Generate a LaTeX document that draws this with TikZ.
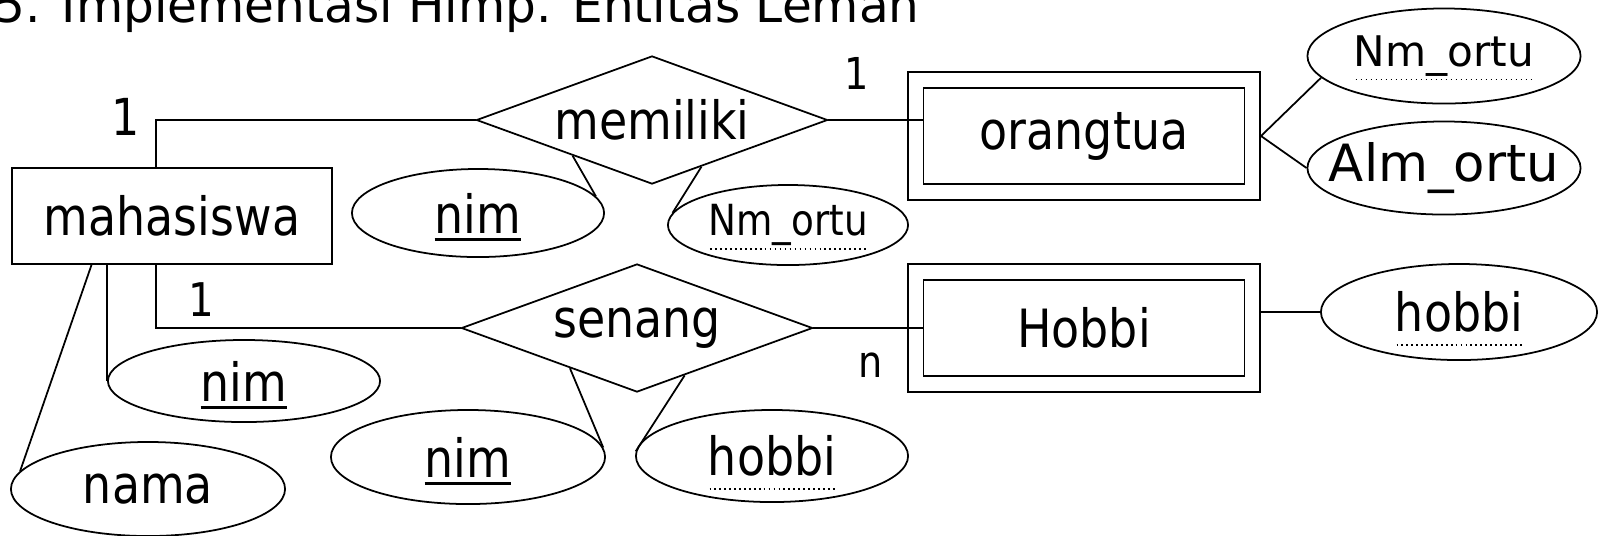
\documentclass[tikz,border=0pt]{standalone}
\usepackage{fontspec}
\setmainfont{DejaVu Sans}[FakeStretch=0.87]
\newfontfamily\comicfont{DejaVu Sans}
\usetikzlibrary{shapes.geometric, calc}

\newcommand{\erfont}{\fontsize{15}{18}\selectfont}
\newcommand{\cardfont}{\fontsize{12.5}{15}\selectfont}
% solid underline for the key, dotted underline for the partial key
\newcommand{\skey}[1]{\setbox0=\hbox{#1}\rlap{\smash{\rule[-2.3pt]{\wd0}{0.8pt}}}\box0}
\newcommand{\pkey}[1]{\setbox0=\hbox{#1}\rlap{\smash{\hbox to \wd0{\xleaders\hbox to 1.4pt{\hss\rule[-4pt]{0.5pt}{0.4pt}\hss}\hfill}}}\box0}

\tikzset{
  entity/.style={draw, rectangle, minimum width=3.2cm, minimum height=0.96cm, font=\erfont},
  weakin/.style={draw, rectangle, minimum width=3.21cm, minimum height=0.96cm, font=\erfont},
  weakout/.style={draw, rectangle, minimum width=3.52cm, minimum height=1.28cm},
  rel/.style={draw, diamond, aspect=2.75, inner sep=0pt, minimum width=3.51cm, minimum height=1.28cm, font=\erfont},
  attr/.style={draw, ellipse, inner xsep=-12pt, inner ysep=0pt, font=\erfont},
  card/.style={inner sep=0pt, font=\cardfont}
}

\begin{document}
\begin{tikzpicture}[x=0.01cm, y=-0.01cm, line width=0.5pt]

        % ==== FRAME ====
        \useasboundingbox (0,0) rectangle (1604,535);

        % ==== TITLE ====
        \node[anchor=base west, inner sep=0pt, font=\comicfont\fontsize{13.8}{16}\selectfont] (title) at (-6,22) {5. Implementasi Himp. Entitas Lemah};

        % ==== ENTITIES ====
        \node[entity] (mahasiswa) at (172,216) {mahasiswa};
        \node[weakout] (orangtuaO) at (1084,136) {};
        \node[weakin] (orangtua) at (1084,136) {orangtua};
        \node[weakout] (HobbiO) at (1084,328) {};
        \node[weakin] (Hobbi) at (1084,328) {Hobbi};

        % ==== RELATIONSHIPS ====
        \node[rel] (memiliki) at (652,120) {memiliki};
        \node[rel] (senang) at (637,328) {senang};

        % ==== ATTRIBUTES ====
        \node[attr, minimum width=2.52cm, minimum height=0.88cm] (nimR) at (478,213) {\skey{nim}};
        \node[attr, minimum width=2.40cm, minimum height=0.80cm, font=\fontsize{12.2}{14}\selectfont] (nmortuR) at (788,225) {\pkey{Nm\_ortu}};
        \node[attr, minimum width=2.73cm, minimum height=0.95cm, font=\comicfont\fontsize{12}{14}\selectfont] (nmortuO) at (1444,56) {\pkey{Nm\_ortu}};
        \node[attr, minimum width=2.73cm, minimum height=0.93cm, font=\comicfont\fontsize{14.6}{17}\selectfont] (almortuO) at (1444,168) {Alm\_ortu};
        \node[attr, minimum width=2.76cm, minimum height=0.96cm] (hobbiH) at (1459,312) {\pkey{hobbi}};
        \node[attr, minimum width=2.72cm, minimum height=0.82cm] (nimM) at (244,381) {\skey{nim}};
        \node[attr, minimum width=2.74cm, minimum height=0.94cm] (namaM) at (148,489) {nama};
        \node[attr, minimum width=2.74cm, minimum height=0.94cm] (nimS) at (468,457) {\skey{nim}};
        \node[attr, minimum width=2.72cm, minimum height=0.92cm] (hobbiS) at (772,456) {\pkey{hobbi}};

        % ==== CARDINALITIES ====
        \node[card, font=\fontsize{14.5}{17}\selectfont] (c1) at (126,117) {1};
        \node[card] (c2) at (857,73) {1};
        \node[card, font=\fontsize{13.2}{16}\selectfont] (c3) at (201,300) {1};
        \node[card] (c4) at (871,365) {n};

        % ==== MAHASISWA - MEMILIKI - ORANGTUA ====
        \draw ($(mahasiswa.north west)!0.45!(mahasiswa.north east)$) |- (memiliki.west);
        \draw (memiliki.east) -- (memiliki.east -| orangtua.west);
        \draw ($(memiliki.west)!0.55!(memiliki.south)$) -- (nimR.8);
        \draw ($(memiliki.south)!0.28!(memiliki.east)$) -- (nmortuR.174);
        \draw (orangtuaO.east) -- (nmortuO.190);
        \draw (orangtuaO.east) -- (almortuO.west);

        % ==== MAHASISWA - SENANG - HOBBI ====
        \draw ($(mahasiswa.south west)!0.45!(mahasiswa.south east)$) |- (senang.west);
        \draw (senang.east) -- (Hobbi.west);
        \draw ($(senang.west)!0.62!(senang.south)$) -- (nimS.4);
        \draw ($(senang.south)!0.27!(senang.east)$) -- (hobbiS.178);
        \draw (HobbiO.east |- hobbiH.west) -- (hobbiH.west);

        % ==== MAHASISWA ATTRIBUTES ====
        \draw (mahasiswa.south -| nimM.west) -- (nimM.west);
        \draw ($(mahasiswa.south west)!0.25!(mahasiswa.south east)$) -- (namaM.172);

\end{tikzpicture}
\end{document}
